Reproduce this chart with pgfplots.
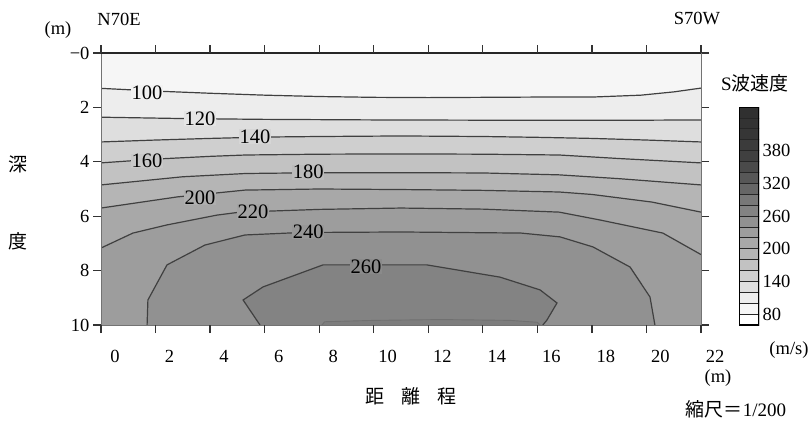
\documentclass[border=0pt]{standalone}
\usepackage{pgfplots}
\pgfplotsset{compat=1.18}
\usepackage{fontspec}
\setmainfont{Liberation Serif}
\newfontfamily\cjk{Noto Sans CJK JP}
\newcommand\tsz{\fontsize{18.5bp}{20bp}\selectfont}
\newcommand\csz{\fontsize{20.5bp}{22bp}\selectfont}
\newcommand\jsz{\fontsize{19bp}{21bp}\selectfont}
\definecolor{b0}{gray}{0.965}
\definecolor{c100}{gray}{0.93}
\definecolor{c120}{gray}{0.87}
\definecolor{c140}{gray}{0.81}
\definecolor{c160}{gray}{0.76}
\definecolor{c180}{gray}{0.71}
\definecolor{c200}{gray}{0.66}
\definecolor{c220}{gray}{0.615}
\definecolor{c240}{gray}{0.57}
\definecolor{c260}{gray}{0.515}
\definecolor{c280}{gray}{0.49}
\definecolor{cline}{gray}{0.25}
\newcommand\blk[3]{\addplot[fill=black!#3, draw=black!85, line width=0.7bp] coordinates {(0,#1) (1,#1) (1,#2) (0,#2)} --cycle;}
\begin{document}
\begin{tikzpicture}
\path[use as bounding box] (0,0) rectangle (811bp,-421bp);
% depth is plotted as negative y (y = -depth in m)
\begin{axis}[
  at={(101bp,-325bp)}, anchor=south west, scale only axis,
  width=600bp, height=272bp,
  xmin=0, xmax=22, ymin=-10, ymax=0,
  xtick={0,2,...,22}, ytick={-10,-8,...,0},
  yticklabels={10,8,6,4,2,−0},
  xtick pos=both, ytick pos=both,
  xticklabel pos=bottom, yticklabel pos=left,
  tick align=outside, major tick length=8bp,
  every tick/.style={black!80, line width=1.3bp},
  axis background/.style={fill=b0},
  axis on top,
  axis line style={black!55, line width=1bp},
  ticklabel style={font=\tsz},
  /pgf/number format/assume math mode=true,
  xticklabel style={xshift=14bp, yshift=-14bp},
  after end axis/.code={%
    \draw[black!85, line width=1.8bp] (rel axis cs:0,1) -- (rel axis cs:1,1);
    \foreach \xx in {0,2,...,22} {%
      \draw[black!80, line width=1.3bp] (axis cs:\xx,0) -- ++(0,7bp);
      \draw[black!80, line width=1.3bp] (axis cs:\xx,-10) -- ++(0,-7bp);
    }%
  },
]
% filled bands
\addplot[fill=c100, draw=none] coordinates {(0,-1.30) (2,-1.40) (4,-1.48) (6,-1.55) (8,-1.60) (10,-1.63) (12,-1.64) (14,-1.63) (16,-1.62) (18,-1.62) (19.8,-1.55) (21,-1.43) (22,-1.29) (22,-10) (0,-10)} --cycle;
\addplot[fill=c120, draw=none] coordinates {(0,-2.36) (3,-2.41) (6,-2.44) (10,-2.46) (14,-2.47) (18,-2.47) (20,-2.47) (22,-2.46) (22,-10) (0,-10)} --cycle;
\addplot[fill=c140, draw=none] coordinates {(0,-3.27) (2,-3.20) (4,-3.14) (6,-3.09) (8,-3.07) (11,-3.05) (14,-3.07) (16,-3.10) (18,-3.14) (20,-3.20) (22,-3.27) (22,-10) (0,-10)} --cycle;
\addplot[fill=c160, draw=none] coordinates {(0,-4.04) (2,-3.90) (4,-3.80) (5.3,-3.75) (8,-3.72) (11,-3.71) (14,-3.72) (16.8,-3.75) (19,-3.88) (22,-4.04) (22,-10) (0,-10)} --cycle;
\addplot[fill=c180, draw=none] coordinates {(0,-4.85) (1.5,-4.70) (3,-4.55) (5.3,-4.43) (8,-4.40) (11,-4.40) (14,-4.41) (16.8,-4.48) (19,-4.62) (22,-4.85) (22,-10) (0,-10)} --cycle;
\addplot[fill=c200, draw=none] coordinates {(0,-5.70) (2.8,-5.29) (5.28,-5.04) (8,-5.00) (11,-5.02) (14,-5.05) (16.8,-5.11) (18,-5.20) (20.2,-5.48) (22,-5.85) (22,-10) (0,-10)} --cycle;
\addplot[fill=c220, draw=none] coordinates {(0,-7.17) (1.17,-6.62) (2.42,-6.32) (4.25,-5.96) (5.1,-5.85) (8,-5.75) (11,-5.70) (14,-5.74) (16.8,-5.85) (18.3,-6.14) (20.6,-6.62) (22,-7.41) (22,-10) (0,-10)} --cycle;
\addplot[fill=c240, draw=none] coordinates {(1.69,-10) (1.72,-9.08) (2.42,-7.79) (3.81,-7.06) (5.28,-6.69) (7.3,-6.60) (11,-6.58) (15.4,-6.62) (16.83,-6.76) (18.04,-7.13) (19.4,-7.87) (20.13,-8.97) (20.31,-10)} --cycle;
\addplot[fill=c260, draw=none] coordinates {(5.83,-10) (5.21,-9.08) (5.94,-8.60) (8.14,-7.79) (11.95,-7.79) (14.63,-8.24) (16.1,-8.71) (16.72,-9.19) (16.35,-9.82) (16.2,-10)} --cycle;
\addplot[fill=c280, draw=none] coordinates {(8.1,-10) (8.2,-9.88) (10,-9.83) (12.5,-9.80) (15,-9.83) (16,-9.90) (16.1,-10)} --cycle;
% contour lines
\addplot[cline, line width=1.2bp] coordinates {(0,-1.30) (2,-1.40) (4,-1.48) (6,-1.55) (8,-1.60) (10,-1.63) (12,-1.64) (14,-1.63) (16,-1.62) (18,-1.62) (19.8,-1.55) (21,-1.43) (22,-1.29)};
\addplot[cline, line width=1.2bp] coordinates {(0,-2.36) (3,-2.41) (6,-2.44) (10,-2.46) (14,-2.47) (18,-2.47) (20,-2.47) (22,-2.46)};
\addplot[cline, line width=1.2bp] coordinates {(0,-3.27) (2,-3.20) (4,-3.14) (6,-3.09) (8,-3.07) (11,-3.05) (14,-3.07) (16,-3.10) (18,-3.14) (20,-3.20) (22,-3.27)};
\addplot[cline, line width=1.2bp] coordinates {(0,-4.04) (2,-3.90) (4,-3.80) (5.3,-3.75) (8,-3.72) (11,-3.71) (14,-3.72) (16.8,-3.75) (19,-3.88) (22,-4.04)};
\addplot[cline, line width=1.2bp] coordinates {(0,-4.85) (1.5,-4.70) (3,-4.55) (5.3,-4.43) (8,-4.40) (11,-4.40) (14,-4.41) (16.8,-4.48) (19,-4.62) (22,-4.85)};
\addplot[cline, line width=1.2bp] coordinates {(0,-5.70) (2.8,-5.29) (5.28,-5.04) (8,-5.00) (11,-5.02) (14,-5.05) (16.8,-5.11) (18,-5.20) (20.2,-5.48) (22,-5.85)};
\addplot[cline, line width=1.2bp] coordinates {(0,-7.17) (1.17,-6.62) (2.42,-6.32) (4.25,-5.96) (5.1,-5.85) (8,-5.75) (11,-5.70) (14,-5.74) (16.8,-5.85) (18.3,-6.14) (20.6,-6.62) (22,-7.41)};
\addplot[cline, line width=1.2bp] coordinates {(1.69,-10) (1.72,-9.08) (2.42,-7.79) (3.81,-7.06) (5.28,-6.69) (7.3,-6.60) (11,-6.58) (15.4,-6.62) (16.83,-6.76) (18.04,-7.13) (19.4,-7.87) (20.13,-8.97) (20.31,-10)};
\addplot[cline, line width=1.2bp] coordinates {(5.83,-10) (5.21,-9.08) (5.94,-8.60) (8.14,-7.79) (11.95,-7.79) (14.63,-8.24) (16.1,-8.71) (16.72,-9.19) (16.35,-9.82) (16.2,-10)};
\addplot[cline!75, line width=0.9bp] coordinates {(8.1,-10) (8.2,-9.88) (10,-9.83) (12.5,-9.80) (15,-9.83) (16,-9.90) (16.1,-10)};
% contour labels
\node[fill=b0!50!c100, inner sep=0.5bp, font=\csz] at (axis cs:1.69,-1.46) {100};
\node[fill=c100!50!c120, inner sep=0.5bp, font=\csz] at (axis cs:3.63,-2.42) {120};
\node[fill=c120!50!c140, inner sep=0.5bp, font=\csz] at (axis cs:5.65,-3.08) {140};
\node[fill=c140!50!c160, inner sep=0.5bp, font=\csz] at (axis cs:1.69,-3.97) {160};
\node[fill=c160!50!c180, inner sep=0.5bp, font=\csz] at (axis cs:7.6,-4.38) {180};
\node[fill=c180!50!c200, inner sep=0.5bp, font=\csz] at (axis cs:3.63,-5.32) {200};
\node[fill=c200!50!c220, inner sep=0.5bp, font=\csz] at (axis cs:5.57,-5.84) {220};
\node[fill=c220!50!c240, inner sep=0.5bp, font=\csz] at (axis cs:7.6,-6.58) {240};
\node[fill=c240!50!c260, inner sep=0.5bp, font=\csz] at (axis cs:9.72,-7.85) {260};
\end{axis}
% colour bar
\begin{axis}[
  at={(739bp,-325bp)}, anchor=south west, scale only axis,
  width=20bp, height=218bp,
  xmin=0, xmax=1, ymin=60, ymax=460,
  xtick=\empty, ytick={80,140,200,260,320,380},
  major tick length=0pt, yticklabel pos=right,
  axis line style={draw=none},
  ticklabel style={font=\tsz},
  /pgf/number format/assume math mode=true,
]
\blk{60}{80}{0}
\blk{80}{100}{3.5}
\blk{100}{120}{7}
\blk{120}{140}{13}
\blk{140}{160}{19}
\blk{160}{180}{24}
\blk{180}{200}{29}
\blk{200}{220}{34}
\blk{220}{240}{38.5}
\blk{240}{260}{43}
\blk{260}{280}{48.5}
\blk{280}{300}{53}
\blk{300}{320}{60}
\blk{320}{340}{66}
\blk{340}{360}{71}
\blk{360}{380}{75}
\blk{380}{400}{77}
\blk{400}{420}{79}
\blk{420}{440}{80}
\blk{440}{460}{81}
\addplot[draw=black, line width=1.2bp] coordinates {(0,60) (1,60) (1,460) (0,460)} --cycle;
\end{axis}
% texts
\node[font=\tsz] at (58bp,-30bp) {(m)};
\node[font=\tsz] at (119bp,-19bp) {N70E};
\node[font=\tsz] at (697bp,-18bp) {S70W};
\node[font=\jsz] at (755bp,-83bp) {S\cjk 波速度};
\node[font=\tsz] at (789bp,-350bp) {(m/s)};
\node[font=\tsz] at (718bp,-378bp) {(m)};
\node[font=\jsz] at (736bp,-409bp) {{\cjk 縮尺＝}1/200};
\node[font=\jsz] at (411bp,-396bp) {\cjk 距\hspace{17bp}離\hspace{17bp}程};
\node[font=\jsz] at (18bp,-164bp) {\cjk 深};
\node[font=\jsz] at (18bp,-241bp) {\cjk 度};
\end{tikzpicture}
\end{document}
